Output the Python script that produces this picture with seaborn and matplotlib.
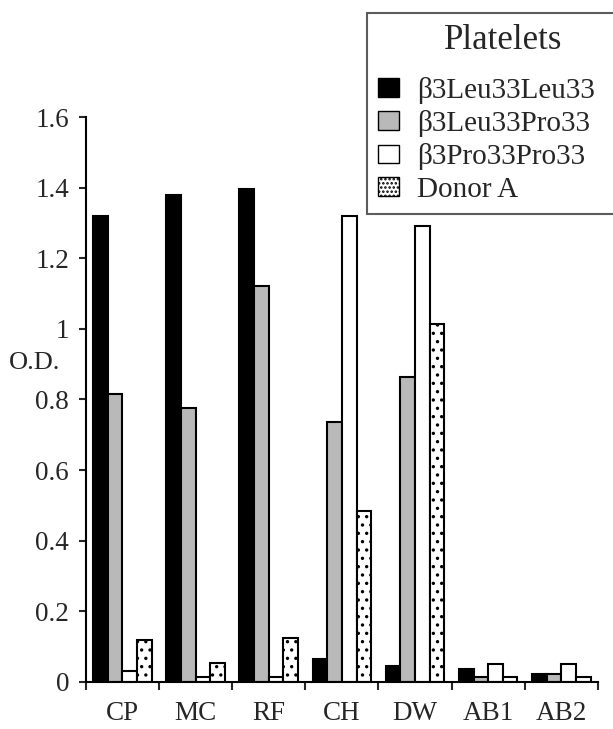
import matplotlib
matplotlib.use("Agg")
import matplotlib.pyplot as plt
import seaborn as sns
import pandas as pd
from matplotlib.patches import Patch

# ============================
# data
# ============================
samples = ["CP", "MC", "RF", "CH", "DW", "AB1", "AB2"]
groups = ["β3Leu33Leu33", "β3Leu33Pro33", "β3Pro33Pro33", "Donor A"]

leu_leu = [1.32, 1.38, 1.395, 0.065, 0.045, 0.038, 0.022]
leu_pro = [0.815, 0.775, 1.12, 0.735, 0.865, 0.015, 0.022]
pro_pro = [0.03, 0.015, 0.015, 1.32, 1.29, 0.05, 0.05]
donor_a = [0.12, 0.055, 0.125, 0.485, 1.015, 0.015, 0.015]

y_ticks = [0, 0.2, 0.4, 0.6, 0.8, 1, 1.2, 1.4, 1.6]
y_labels = ["0", "0.2", "0.4", "0.6", "0.8", "1", "1.2", "1.4", "1.6"]

df = pd.DataFrame({
    "sample": samples * 4,
    "group": [g for g in groups for _ in samples],
    "od": leu_leu + leu_pro + pro_pro + donor_a,
})

# ============================
# style
# ============================
sns.set_style("ticks")
plt.rcParams["font.family"] = ["Liberation Serif", "DejaVu Serif"]
plt.rcParams["hatch.linewidth"] = 1.2

colors = ["black", "#b9b9b9", "white", "white"]

fig = plt.figure(figsize=(6.13, 7.29), dpi=100)
ax = fig.add_axes([0.140, 0.0645, 0.8355, 0.775])

sns.barplot(
    data=df, x="sample", y="od", hue="group",
    order=samples, hue_order=groups, palette=colors,
    edgecolor="black", linewidth=1.5, width=0.8,
    legend=False, ax=ax,
)

# dotted pattern for donor A
for bar in ax.containers[3]:
    bar.set_hatch("..")

ax.set_xlim(-0.5, len(samples) - 0.5)
ax.set_ylim(0, 1.6)
ax.set_yticks(y_ticks)
ax.set_yticklabels(y_labels)
ax.set_xlabel("")
ax.set_ylabel("")

# ticks between categories
ax.set_xticks([i - 0.5 for i in range(len(samples) + 1)], minor=True)
ax.tick_params(axis="x", which="major", length=0, labelsize=19.5, pad=14)
ax.tick_params(axis="x", which="minor", length=6, width=1.5, direction="out")
ax.tick_params(axis="y", length=5, width=1.5, direction="out", labelsize=19.5, pad=7)

for side in ["top", "right"]:
    ax.spines[side].set_visible(False)
for side in ["left", "bottom"]:
    ax.spines[side].set_linewidth(1.5)
    ax.spines[side].set_color("black")

fig.text(35 / 613, 1 - 363 / 729, "O.D.", fontsize=19, ha="center", va="center")

# ============================
# legend (frame runs off the right edge, like the original)
# ============================
handles = [
    Patch(facecolor=c, edgecolor="black", linewidth=1.0, hatch=h)
    for c, h in zip(colors, [None, None, None, "...."])
]
leg_top = 1 - 13 / 729
leg = fig.legend(
    handles, groups, title="Platelets",
    loc="upper left", bbox_to_anchor=(367 / 613, leg_top - 0.3, 272 / 613, 0.3),
    mode="expand",
    fontsize=21, title_fontsize=25, frameon=True, fancybox=False,
    handlelength=0.7, handleheight=0.6, handletextpad=0.65,
    labelspacing=0.22, borderpad=0.38, borderaxespad=0,
)
leg._legend_box.sep = 14
leg.get_frame().set_edgecolor("#333333")
leg.get_frame().set_linewidth(1.5)

fig.savefig("out.png", dpi=100)
